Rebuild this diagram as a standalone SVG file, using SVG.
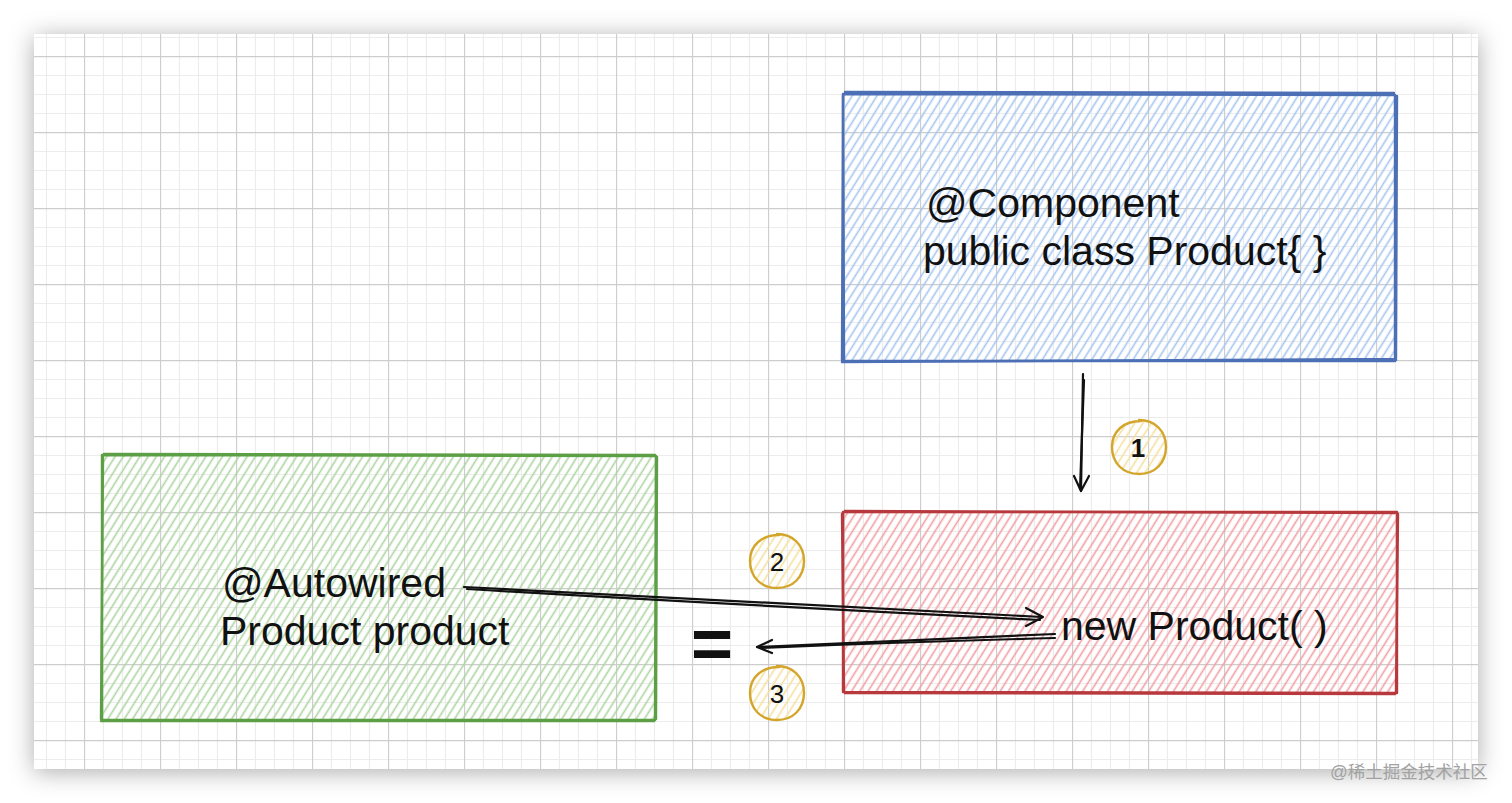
<svg xmlns="http://www.w3.org/2000/svg" width="1512" height="803" viewBox="0 0 1512 803">
<defs>
  <filter id="shadow" x="-10%" y="-10%" width="120%" height="120%">
    <feDropShadow dx="0" dy="3" stdDeviation="12" flood-color="#000" flood-opacity="0.33"/>
  </filter>
  <pattern id="grid" patternUnits="userSpaceOnUse" x="8" y="-20" width="76" height="76">
    <path d="M19.5 0V76M38.5 0V76M57.5 0V76M0 19.5H76M0 38.5H76M0 57.5H76" stroke="#ececec" stroke-width="1.2" fill="none"/>
    <path d="M0.5 0V76M0 0.5H76" stroke="#cdcdcd" stroke-width="1.3" fill="none"/>
  </pattern>
  <pattern id="hBlue" patternUnits="userSpaceOnUse" width="7" height="7" patternTransform="rotate(32)">
    <line x1="3.5" y1="0" x2="3.5" y2="7" stroke="#a4c4f0" stroke-width="1.6"/>
  </pattern>
  <pattern id="hRed" patternUnits="userSpaceOnUse" width="7" height="7" patternTransform="rotate(32)">
    <line x1="3.5" y1="0" x2="3.5" y2="7" stroke="#f09ea2" stroke-width="1.6"/>
  </pattern>
  <pattern id="hGreen" patternUnits="userSpaceOnUse" width="7" height="7" patternTransform="rotate(32)">
    <line x1="3.5" y1="0" x2="3.5" y2="7" stroke="#acd4a0" stroke-width="1.6"/>
  </pattern>
  <pattern id="hYellow" patternUnits="userSpaceOnUse" width="7" height="7" patternTransform="rotate(32)">
    <line x1="3.5" y1="0" x2="3.5" y2="7" stroke="#f5df9c" stroke-width="1.6"/>
  </pattern>
  <style>
    .lbl { font-family: "Liberation Sans", Arial, Helvetica, sans-serif; font-size: 41px; fill: #111; }
    .num { font-family: "Liberation Sans", Arial, Helvetica, sans-serif; fill: #111; text-anchor: middle; }
    .sk { fill: none; stroke-linecap: round; stroke-linejoin: round; }
    .blue { stroke: #4c6fb5; stroke-width: 2.4; }
    .red { stroke: #b8393d; stroke-width: 2.4; }
    .green { stroke: #5c9f45; stroke-width: 2.4; }
    .yel { stroke: #d3a52a; stroke-width: 2.4; }
    .arr { fill: none; stroke: #111; stroke-width: 2.2; stroke-linecap: round; stroke-linejoin: round; }
  </style>
</defs>

<rect width="1512" height="803" fill="#ffffff"/>
<g id="card">
  <rect x="34" y="34" width="1444" height="735" fill="#ffffff" filter="url(#shadow)"/>
  <rect x="34" y="34" width="1444" height="735" fill="url(#grid)"/>
</g>

<g id="node-component">
  <rect x="843" y="94" width="552" height="267" fill="url(#hBlue)"/>
  <path class="sk blue" d="M843 94 L1395 95 L1395 361 L844 361 Z"/>
  <path class="sk blue" d="M845 92 L1394 93 M1397 96 L1396 360 M1395 359 L842 362 M842 360 L843 96" stroke-width="1.3"/>
  <text class="lbl" x="926" y="217">@Component</text>
  <text class="lbl" x="923" y="265">public class Product{ }</text>
</g>

<g id="node-new">
  <rect x="843" y="512" width="554" height="181" fill="url(#hRed)"/>
  <path class="sk red" d="M843 512 L1397 512 L1397 693 L843 692 Z"/>
  <path class="sk red" d="M845 511 L1395 513 M1398 514 L1396 692 M1395 694 L845 693 M844 691 L842 514" stroke-width="1.3"/>
  <text class="lbl" x="1061" y="640">new Product( )</text>
</g>

<g id="node-autowired">
  <rect x="102" y="455" width="554" height="265" fill="url(#hGreen)"/>
  <path class="sk green" d="M102 455 L656 456 L655 720 L102 720 Z"/>
  <path class="sk green" d="M104 454 L655 455 M657 457 L656 719 M654 721 L101 721 M101 719 L103 457" stroke-width="1.3"/>
  <text class="lbl" x="222" y="597">@Autowired</text>
  <text class="lbl" x="220" y="645">Product product</text>
</g>

<g id="equals">
  <text x="712" y="668" font-family="Liberation Sans, Arial, sans-serif" font-size="72" font-weight="bold" fill="#111" text-anchor="middle">=</text>
</g>

<g id="badge-1">
  <circle cx="1139" cy="447" r="27" fill="url(#hYellow)"/>
  <path class="sk yel" d="M1139 420 C1155 420 1166 431 1166 447 C1166 463 1155 474 1139 474 C1123 474 1112 463 1112 447 C1112 431 1124 421 1141 421"/>
  <text class="num" x="1138" y="457" font-size="26" font-weight="bold">1</text>
</g>
<g id="badge-2">
  <circle cx="777" cy="561" r="27" fill="url(#hYellow)"/>
  <path class="sk yel" d="M777 534 C793 534 804 545 804 561 C804 577 793 588 777 588 C761 588 750 577 750 561 C750 545 762 535 779 535"/>
  <text class="num" x="777" y="571" font-size="26">2</text>
</g>
<g id="badge-3">
  <circle cx="777" cy="693" r="27" fill="url(#hYellow)"/>
  <path class="sk yel" d="M777 666 C793 666 804 677 804 693 C804 709 793 720 777 720 C761 720 750 709 750 693 C750 677 762 667 779 667"/>
  <text class="num" x="777" y="703" font-size="26">3</text>
</g>

<g id="connectors">
  <path class="arr" stroke-width="2.6" d="M1083 374 L1081 491"/>
  <path class="arr" stroke-width="1.5" d="M1084 380 Q1082 430 1080 489"/>
  <path class="arr" stroke-width="2.4" d="M1074 476 L1081 491 L1089 476"/>

  <path class="arr" d="M464 587 L1042 617"/>
  <path class="arr" stroke-width="1.5" d="M467 589 Q720 604 1040 620"/>
  <path class="arr" d="M1026 608 L1043 617 L1026 626"/>

  <path class="arr" d="M1055 634 L757 647"/>
  <path class="arr" stroke-width="1.5" d="M1055 638 Q900 642 760 648"/>
  <path class="arr" d="M772 640 L757 647 L772 653"/>
</g>

<text x="1330" y="778" font-family="Liberation Sans, 'Noto Sans CJK SC', sans-serif" font-size="17.5" fill="#a2a2a2">@稀土掘金技术社区</text>
</svg>
